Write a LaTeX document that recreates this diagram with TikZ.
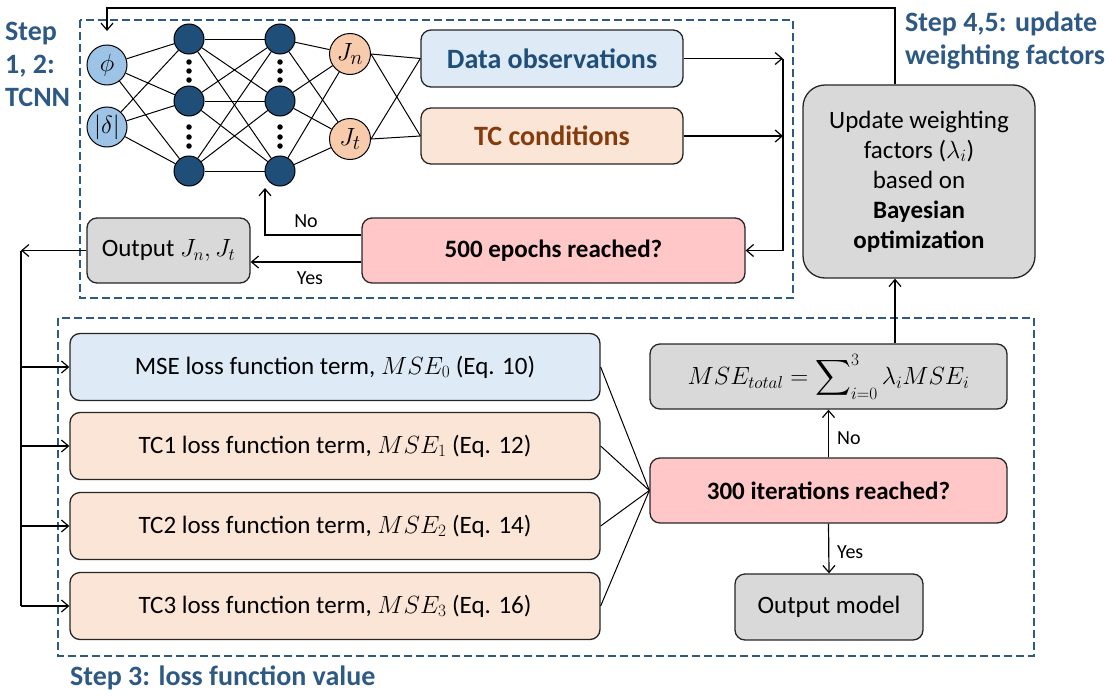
\documentclass[tikz,border=0pt]{standalone}
\usepackage{amsmath}
\usepackage{fontspec}
\setmainfont{Carlito}
\usetikzlibrary{arrows.meta,calc}
\definecolor{dashblue}{RGB}{46,89,132}
\definecolor{stepblue}{RGB}{46,89,132}
\definecolor{lblue}{RGB}{222,235,247}
\definecolor{lorange}{RGB}{251,229,214}
\definecolor{lpink}{RGB}{255,199,199}
\definecolor{lgray}{RGB}{217,217,217}
\definecolor{inblue}{RGB}{157,195,230}
\definecolor{hidblue}{RGB}{31,78,121}
\definecolor{outorange}{RGB}{248,203,173}
\definecolor{tcbrown}{RGB}{132,60,12}
\begin{document}
\begin{tikzpicture}[x=1pt,y=-1pt,
  every node/.style={font=\fontsize{25}{30}\selectfont},
  box/.style={draw=black!85, line width=1.3pt, rounded corners=10pt, inner sep=0pt, align=center},
  dbox/.style={draw=dashblue, line width=2.7pt, dash pattern=on 8pt off 4pt},
  arr/.style={line width=1.2pt, -{Straight Barb[length=7pt,width=12pt]}},
  ln/.style={line width=1.2pt},
  nn/.style={line width=1pt},
  inn/.style={circle, draw, line width=1pt, fill=inblue, minimum size=40pt, inner sep=0pt, font=\fontsize{28}{33}\selectfont},
  hid/.style={circle, draw, line width=1pt, fill=hidblue, minimum size=30pt, inner sep=0pt},
  outn/.style={circle, draw, line width=1pt, fill=outorange, minimum size=41pt, inner sep=0pt, font=\fontsize{28}{33}\selectfont},
  dotn/.style={circle, fill=black, minimum size=5.5pt, inner sep=0pt},
  steptxt/.style={text=stepblue, font=\fontsize{28}{33}\selectfont\bfseries, align=left, inner sep=0pt},
  lab/.style={font=\fontsize{20}{24}\selectfont, inner sep=0pt}
]
\useasboundingbox (0,0) rectangle (1113,696);

% dashed frames
\draw[dbox] (80,20) rectangle (793,298);
\draw[dbox] (58,318) rectangle (1034,656);

% step labels
\node[steptxt, anchor=north west] (s12) at (5,22) {Step\\1, 2:\\TCNN};
\node[steptxt, anchor=north west] (s45) at (905,12) {Step 4,5: update\\weighting factors};
\node[steptxt, anchor=north west] (s3) at (70,666) {Step 3: loss function value};

% neural network
\node[inn] (i1) at (107,65) {$\phi$};
\node[inn] (i2) at (107,127) {$|\delta|$};
\foreach \k/\y in {1/39,2/101,3/171}{
  \node[hid] (a\k) at (189,\y) {};
  \node[hid] (b\k) at (280,\y) {};
}
\node[outn] (jn) at (350,54) {$J_n$};
\node[outn] (jt) at (350,139) {$J_t$};
\foreach \x/\n in {189/a,280/b}{
  \foreach \y/\m in {62/1,71/2,80/3,127/4,137/5,146/6}{
    \node[dotn] (d\n\m) at (\x,\y) {};
  }
}
\foreach \i in {i1,i2}{\foreach \k in {1,2,3}{\draw[nn] (\i) -- (a\k);}}
\foreach \j in {1,2,3}{\foreach \k in {1,2,3}{\draw[nn] (a\j) -- (b\k);}}
\foreach \j in {1,2,3}{\foreach \o in {jn,jt}{\draw[nn] (b\j) -- (\o);}}

% top boxes
\node[box, fill=lblue, minimum width=262pt, minimum height=57pt, text=hidblue, font=\fontsize{28}{33}\selectfont\bfseries] (data) at (552,58.5) {Data observations};
\node[box, fill=lorange, minimum width=262pt, minimum height=56pt, text=tcbrown, font=\fontsize{28}{33}\selectfont\bfseries] (tc) at (552,136) {TC conditions};
\draw[nn] (jn.east) -- (data.west);
\draw[nn] (jn.east) -- (tc.west);
\draw[nn] (jt.east) -- (data.west);
\draw[nn] (jt.east) -- (tc.west);

\node[box, fill=lpink, minimum width=383pt, minimum height=65pt, font=\fontsize{25}{30}\selectfont\bfseries] (ep) at (553.5,250.5) {500 epochs reached?};
\node[box, fill=lgray, minimum width=163pt, minimum height=65pt] (oj) at (168.5,250.5) {Output $J_n, J_t$};

\coordinate (bus) at (783,0);
\draw[arr] (data.east) -- (data.east -| bus);
\draw[arr] (tc.east) -- (tc.east -| bus);
\draw[ln] (data.east -| bus) -- (ep.east -| bus);
\draw[arr] (ep.east -| bus) -- (ep.east);

\coordinate (noend) at (265,188);
\draw[arr] (ep.west |- 0,235) -| (noend);
\node[lab, anchor=base] (nolab) at (306,227) {No};
\draw[arr] (ep.west |- 0,262) -- (oj.east |- 0,262);
\node[lab, anchor=base] (yeslab) at (310,284) {Yes};

% update box
\node[box, fill=lgray, rounded corners=22pt, minimum width=232pt, minimum height=193pt] (upd) at (919,181.5)
  {Update weighting\\factors ($\lambda_i$)\\based on\\\textbf{Bayesian}\\\textbf{optimization}};

% loss boxes
\node[box, fill=lblue, minimum width=530pt, minimum height=67pt] (m0) at (335,367) {MSE loss function term, $MSE_0$ (Eq. 10)};
\node[box, fill=lorange, minimum width=530pt, minimum height=67pt] (m1) at (335,446) {TC1 loss function term, $MSE_1$ (Eq. 12)};
\node[box, fill=lorange, minimum width=530pt, minimum height=67pt] (m2) at (335,526) {TC2 loss function term, $MSE_2$ (Eq. 14)};
\node[box, fill=lorange, minimum width=530pt, minimum height=67pt] (m3) at (335,606) {TC3 loss function term, $MSE_3$ (Eq. 16)};

\node[box, fill=lgray, minimum width=357pt, minimum height=65pt] (mt) at (828.5,376.5) {$MSE_{total} = \displaystyle\sum\nolimits_{i=0}^{3} \lambda_i MSE_i$};
\node[box, fill=lpink, minimum width=357pt, minimum height=65pt, font=\fontsize{25}{30}\selectfont\bfseries] (it) at (828.5,490.5) {300 iterations reached?};
\node[box, fill=lgray, minimum width=188pt, minimum height=66pt] (om) at (829,607) {Output model};

\foreach \m in {m0,m1,m2,m3}{\draw[nn] (\m.east) -- (it.west);}
\draw[arr] (it.north) -- (mt.south);
\node[lab, anchor=base west] (nolab2) at (837,444) {No};
\draw[arr] (it.south) -- (om.north);
\node[lab, anchor=base west] (yeslab2) at (837,558) {Yes};

\coordinate (fbx) at (895,8);
\draw[arr] (mt.north -| fbx) -- (upd.south -| fbx);
\coordinate (phitop) at (107,31);
\draw[arr] (upd.north -| fbx) -- (fbx) -| (phitop);

% left bus
\coordinate (bl) at (21,250.5);
\draw[arr] (oj.west) -- (bl);
\draw[ln] (bl) -- (bl |- m3.west);
\foreach \m in {m0,m1,m2,m3}{\draw[arr] (bl |- \m.west) -- (\m.west);}
\end{tikzpicture}
\end{document}
